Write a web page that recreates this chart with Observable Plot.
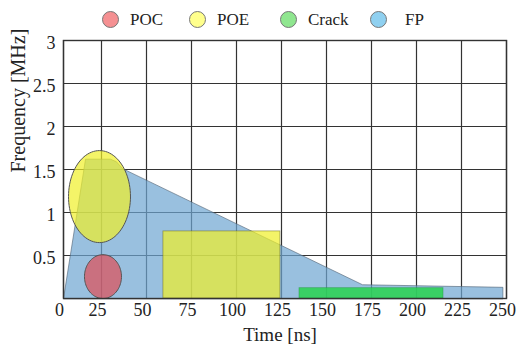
<!DOCTYPE html>
<html>
<head>
<meta charset="utf-8">
<script src="https://cdn.jsdelivr.net/npm/d3@7"></script>
<script src="https://cdn.jsdelivr.net/npm/@observablehq/plot@0.6"></script>
<style>
  html, body { margin: 0; padding: 0; background: #fff; }
  #legend { height: 28px; box-sizing: border-box; padding-top: 11px; padding-left: 102px;
            display: flex; align-items: center; font-family: 'Liberation Serif', 'Times New Roman', serif; font-size: 17px; color: #222; }
  .item { display: flex; align-items: center; }
  .sw { width: 15px; height: 15px; border-radius: 50%; border: 1px solid #777; margin-right: 11px; }
</style>
</head>
<body>
<div id="legend"></div>
<div id="chart"></div>
<script>
// ---- data ----
const legendNames = ["POC", "POE", "Crack", "FP"];
const legendColors = ["#f59092", "#ffff8c", "#8fe68f", "#8fd0f0"];

const xTicks = [0, 25, 50, 75, 100, 125, 150, 175, 200, 225, 250];
const yTicks = [0.5, 1, 1.5, 2, 2.5, 3];

// FP region outline (time in ns, frequency in MHz)
const fpTime = [0, 14.5, 30, 33.3, 36.7, 170, 248, 248];
const fpFreq = [0, 1.62, 1.62, 1.59, 1.51, 0.16, 0.13, 0];

// elliptical regions: extents
const ellipseNames = ["POC", "POE"];
const ellipseTimeMin = [13.8, 3.3];
const ellipseTimeMax = [36.1, 41.1];
const ellipseFreqMin = [0, 0.65];
const ellipseFreqMax = [0.51, 1.72];

// rectangular regions
const rectNames = ["POE", "Crack"];
const rectTimeStart = [59.4, 135];
const rectTimeEnd = [124.4, 215];
const rectFreqLow = [0, 0];
const rectFreqHigh = [0.78, 0.12];

// ---- legend ----
const legItemWidth = [87, 91, 90, 60];
const legTextGap = [11, 11, 11, 18];
const leg = document.getElementById("legend");
legendNames.forEach((n, i) => {
  const it = document.createElement("div"); it.className = "item"; it.style.width = legItemWidth[i] + "px";
  const sw = document.createElement("span"); sw.className = "sw"; sw.style.background = legendColors[i];
  sw.style.marginRight = legTextGap[i] + "px";
  const tx = document.createElement("span"); tx.textContent = n;
  it.appendChild(sw); it.appendChild(tx); leg.appendChild(it);
});

// ---- chart ----
const W = 516, H = 321;
const mL = 63, mR = 10, mT = 12, mB = 51;
// the first axis interval (0–25) is drawn narrower than the others
const k0 = 38 / 45;
const warp = t => t >= 25 ? t : 25 - (25 - t) * k0;
const unwarp = w => w >= 25 ? w : 25 - (25 - w) / k0;

const fp = fpTime.map((t, i) => ({t, f: fpFreq[i]}));
function ellipsePts(k) {
  const p0 = warp(ellipseTimeMin[k]), p1 = warp(ellipseTimeMax[k]);
  const cp = (p0 + p1) / 2, rp = (p1 - p0) / 2;
  const cy = (ellipseFreqMin[k] + ellipseFreqMax[k]) / 2, ry = (ellipseFreqMax[k] - ellipseFreqMin[k]) / 2;
  return d3.range(0, 96).map(j => {
    const a = j / 96 * 2 * Math.PI;
    return {t: unwarp(cp + rp * Math.cos(a)), f: cy + ry * Math.sin(a)};
  });
}
const poc = ellipsePts(0), poe = ellipsePts(1);
const rects = rectNames.map((n, i) => ({n, x1: rectTimeStart[i], x2: rectTimeEnd[i], y1: rectFreqLow[i], y2: rectFreqHigh[i]}));
const rectFill = {POE: "rgb(240,240,40)", Crack: "rgb(40,210,80)"};
const rectOp = {POE: 0.7, Crack: 0.85};

const gridColor = "#333";
const font = {fontFamily: "Liberation Serif", fill: "#222"};
const plot = Plot.plot({
  width: W, height: H,
  marginLeft: mL, marginRight: mR, marginTop: mT, marginBottom: mB,
  style: {fontFamily: "'Liberation Serif', 'Times New Roman', serif", fontSize: "17px", color: "#222", background: "#fff"},
  x: {type: "linear", transform: warp, domain: [warp(0), 250], axis: null},
  y: {domain: [0, 3], axis: null},
  marks: [
    Plot.ruleX(xTicks, {stroke: gridColor, strokeWidth: 1.2}),
    Plot.ruleY([0, ...yTicks], {stroke: gridColor, strokeWidth: 1.2}),
    Plot.line(fp, {x: "t", y: "f", curve: "linear-closed", fill: "rgb(110,165,210)", fillOpacity: 0.7, stroke: "#556677", strokeWidth: 0.8, strokeOpacity: 0.8}),
    Plot.rect(rects, {x1: "x1", x2: "x2", y1: "y1", y2: "y2", fill: d => rectFill[d.n], fillOpacity: d => rectOp[d.n], stroke: d => d.n === "POE" ? "#6b6b20" : "#2a9a4a", strokeWidth: 0.8, strokeOpacity: 0.6}),
    Plot.line(poe, {x: "t", y: "f", curve: "linear-closed", fill: "rgb(240,240,40)", fillOpacity: 0.7, stroke: "#555", strokeWidth: 1}),
    Plot.line(poc, {x: "t", y: "f", curve: "linear-closed", fill: "rgb(220,80,90)", fillOpacity: 0.72, stroke: "#555", strokeWidth: 1}),
    Plot.frame({stroke: gridColor, strokeWidth: 1.4}),
    Plot.text(xTicks, {x: d => d, frameAnchor: "bottom", dy: 17, dx: -4, fontSize: 18, ...font}),
    Plot.text(yTicks, {y: d => d, frameAnchor: "left", dx: -8, dy: 3, textAnchor: "end", fontSize: 18, ...font}),
    Plot.text(["Time [ns]"], {frameAnchor: "bottom", dy: 42, dx: -5, fontSize: 19, ...font}),
    Plot.text(["Frequency [MHz]"], {frameAnchor: "left", dx: -45, dy: 3, rotate: -90, fontSize: 20, ...font})
  ]
});
document.getElementById("chart").appendChild(plot);
</script>
</body>
</html>
